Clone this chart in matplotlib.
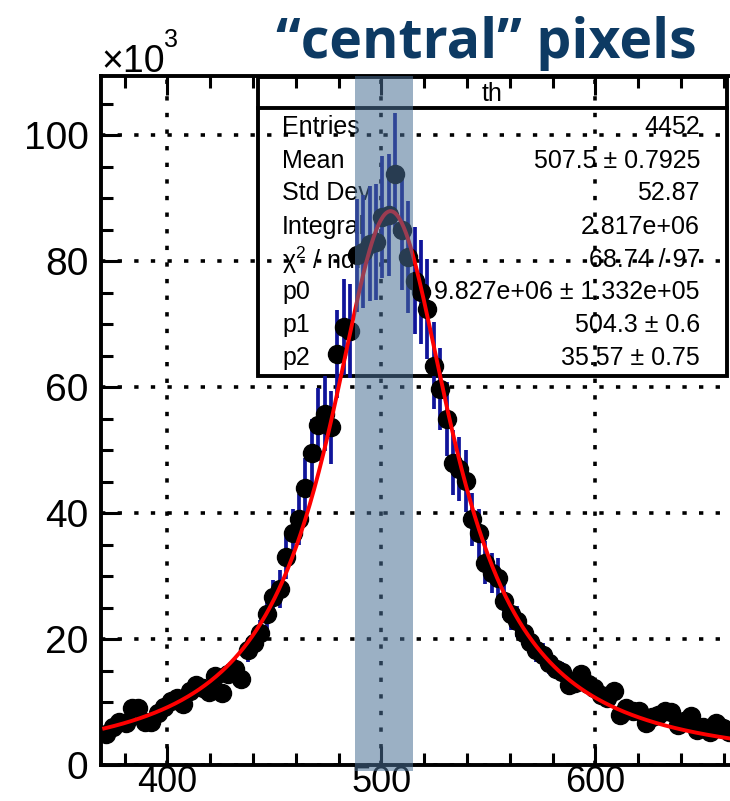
import numpy as np
import matplotlib.pyplot as plt
from matplotlib.patches import Rectangle
from matplotlib.lines import Line2D

# histogram bin centres (3 units wide)
x_first = 371.5
bin_width = 3.0

# bin contents in units of 10^3
counts = [5.0, 6.0, 6.8, 6.6, 9.0, 9.0, 6.8, 6.8, 8.3, 9.2,
          10.1, 10.6, 9.7, 11.7, 12.7, 12.2, 11.6, 14.2, 11.5, 14.5,
          15.3, 13.7, 18.3, 19.3, 20.9, 23.9, 26.6, 28.0, 33.1, 36.8,
          39.0, 44.0, 49.6, 54.0, 55.8, 53.6, 65.2, 69.5, 68.9, 80.9,
          81.5, 82.8, 83.0, 87.0, 87.3, 93.9, 84.9, 80.6, 76.9, 75.1,
          72.4, 63.4, 59.7, 54.9, 48.0, 47.0, 45.1, 39.0, 36.8, 32.1,
          30.5, 29.7, 26.0, 24.0, 22.8, 21.0, 19.5, 18.3, 17.5, 16.2,
          15.3, 14.8, 12.7, 13.0, 14.4, 12.8, 12.2, 11.1, 10.6, 11.7,
          8.0, 9.0, 8.6, 8.5, 6.7, 7.6, 8.0, 8.6, 8.4, 6.4,
          7.0, 7.8, 5.6, 6.0, 5.3, 6.6, 5.8, 5.3]
errors = [0.5, 0.6, 0.7, 0.7, 0.9, 0.9, 0.7, 0.7, 0.8, 0.9,
          1.0, 1.1, 1.0, 1.2, 1.3, 1.2, 1.2, 1.4, 1.2, 1.5,
          1.5, 1.4, 1.9, 2.0, 2.2, 2.5, 2.8, 3.0, 3.5, 3.9,
          4.1, 4.7, 5.3, 5.8, 6.0, 5.8, 7.0, 7.6, 7.5, 8.9,
          9.0, 9.2, 9.2, 9.7, 9.7, 9.6, 9.4, 8.9, 8.5, 8.2,
          7.9, 6.9, 6.5, 5.9, 5.2, 5.1, 4.9, 4.2, 3.9, 3.4,
          3.2, 3.1, 2.7, 2.5, 2.4, 2.2, 2.0, 1.9, 1.8, 1.7,
          1.6, 1.5, 1.3, 1.3, 1.4, 1.3, 1.2, 1.1, 1.1, 1.2,
          0.8, 0.9, 0.9, 0.9, 0.7, 0.8, 0.8, 0.9, 0.8, 0.6,
          0.7, 0.8, 0.6, 0.6, 0.5, 0.7, 0.6, 0.5]
centres = x_first + bin_width * np.arange(len(counts))

# fit parameters (Lorentzian) and stats box
p0, p1, p2 = 9.827e6, 504.3, 35.57
stat_names = ['Entries', 'Mean', 'Std Dev', 'Integral', 'χ$^2$ / ndf', 'p0', 'p1', 'p2']
stat_values = ['4452', '507.5 ± 0.7925', '52.87', '2.817e+06', '68.74 / 97',
               '9.827e+06 ± 1.332e+05', '504.3 ± 0.6', '35.57 ± 0.75']
band = (487.5, 515.0)

W, H = 730, 801


def fx(p):
    return p / W


def fy(p):
    return 1 - p / H


plt.rcParams['font.family'] = ['Liberation Sans', 'DejaVu Sans']
plt.rcParams['mathtext.fontset'] = 'custom'
plt.rcParams['mathtext.rm'] = 'Liberation Sans'

fig = plt.figure(figsize=(W / 100, H / 100), dpi=100)
ax = fig.add_axes([fx(101), fy(765), (680 - 369.0) * 2.14 / W, 689 / H])

# data + fit
ax.errorbar(centres, counts, yerr=errors, fmt='o', color='black', ms=13,
            ecolor='#10149a', elinewidth=2.7, capsize=0, zorder=3)
xf = np.linspace(370.5, 680, 600)
fit = p0 / np.pi * p2 / ((xf - p1) ** 2 + p2 ** 2) / 1e3
ax.plot(xf, fit, color='#ff0000', lw=2.8, zorder=4)

ax.axvspan(band[0], band[1], ymin=-0.008, ymax=1.0, color='#4a6f94',
           alpha=0.55, lw=0, zorder=6, clip_on=False)

ax.set_xlim(369.0, 680)
ax.set_ylim(0, 109.4)

ax.set_xticks([400, 500, 600])
ax.set_xticks(np.arange(380, 680, 20), minor=True)
ax.set_yticks([0, 20, 40, 60, 80, 100])
ax.set_yticks(np.arange(0, 110, 5), minor=True)
ax.tick_params(which='both', direction='in', top=True, right=True, width=2.2,
               labelsize=28)
ax.tick_params(which='major', length=14)
ax.tick_params(which='minor', length=8.5)
ax.tick_params(axis='y', pad=9)
ax.tick_params(axis='x', pad=0, labelsize=26)
for s in ax.spines.values():
    s.set_linewidth(2.8)
ax.grid(True, which='major', color='black', lw=2.6, linestyle=(0, (1.2, 3.4)))
ax.set_axisbelow(True)

# stats box (transparent, data drawn over it)
ax.add_patch(Rectangle((fx(258), fy(376)), fx(727) - fx(258), fy(77) - fy(376),
                       transform=fig.transFigure, fill=False, lw=2.8,
                       edgecolor='black', clip_on=False, zorder=2))
ax.add_line(Line2D([fx(258), fx(727)], [fy(108), fy(108)],
                   transform=fig.transFigure, color='black', lw=2.8,
                   clip_on=False, zorder=2))
ax.text(fx(492), fy(94), 'th', transform=fig.transFigure, fontsize=18,
        ha='center', va='center', zorder=2)
row_y = [127, 161, 193, 227, 260, 292, 325, 358]
for name, val, ry in zip(stat_names, stat_values, row_y):
    ax.text(fx(282), fy(ry), name, transform=fig.transFigure, fontsize=18,
            ha='left', va='center', zorder=2)
    ax.text(fx(700), fy(ry), val, transform=fig.transFigure, fontsize=18,
            ha='right', va='center', zorder=2)

# axis multiplier and slide title
fig.text(fx(101), fy(72), '×10', fontsize=27, ha='left', va='baseline')
fig.text(fx(164), fy(47), '3', fontsize=18, ha='left', va='baseline')
fig.text(fx(276), fy(58), '“central” pixels', fontsize=40, fontweight='bold',
         family='Open Sans', color='#0d3a63', ha='left', va='baseline')

fig.savefig('out.png', dpi=100)
